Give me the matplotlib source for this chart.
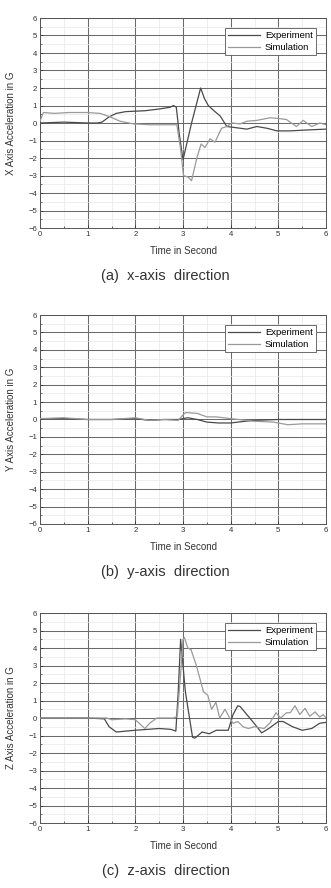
"""
Acceleration in G, experiment vs simulation, for the x, y and z axes.
Three stacked panels, values read off the original figure.
"""

import matplotlib
matplotlib.use("Agg")
import matplotlib.pyplot as plt
from matplotlib.ticker import MultipleLocator

plt.rcParams.update({
    "font.family": ["Liberation Sans", "DejaVu Sans"],
    "font.size": 6,
})

EXP_COLOR = "#4a4a4a"
SIM_COLOR = "#9a9a9a"

# ---- (a) x-axis -------------------------------------------------------------
x_exp_t = [0, 0.5, 1.0, 1.2, 1.3, 1.45, 1.6, 1.8, 2.2, 2.5, 2.73, 2.8, 2.86,
           2.92, 3.0, 3.18, 3.37, 3.45, 3.53, 3.65, 3.78, 3.92, 4.2, 4.34,
           4.55, 4.76, 4.97, 5.24, 5.59, 6.0]
x_exp_v = [0.0, 0.05, 0.0, 0.0, 0.05, 0.35, 0.55, 0.65, 0.7, 0.8, 0.9, 1.0,
           0.9, -0.6, -2.1, 0.0, 2.0, 1.4, 1.0, 0.7, 0.4, -0.2, -0.3, -0.35,
           -0.2, -0.3, -0.45, -0.45, -0.4, -0.35]
x_sim_t = [0, 0.07, 0.3, 0.6, 0.98, 1.26, 1.47, 1.68, 1.96, 2.3, 2.6, 2.87,
           2.95, 3.01, 3.11, 3.18, 3.29, 3.38, 3.46, 3.57, 3.67, 3.81, 3.92,
           4.02, 4.2, 4.34, 4.55, 4.83, 5.03, 5.17, 5.38, 5.52, 5.7, 5.87, 6.0]
x_sim_v = [0.1, 0.6, 0.55, 0.6, 0.6, 0.55, 0.35, 0.1, -0.05, -0.1, -0.1, -0.1,
           -1.5, -3.0, -3.1, -3.3, -2.0, -1.2, -1.4, -0.9, -1.1, -0.3, -0.2,
           0.0, -0.05, 0.1, 0.15, 0.3, 0.25, 0.2, -0.2, 0.15, -0.2, 0.0, -0.1]

# ---- (b) y-axis -------------------------------------------------------------
y_exp_t = [0, 0.5, 1.0, 1.5, 2.0, 2.3, 2.6, 2.9, 3.1, 3.3, 3.5, 3.75, 4.0,
           4.3, 4.5, 5.0, 5.5, 6.0]
y_exp_v = [0.05, 0.05, 0.0, 0.0, 0.05, -0.05, 0.0, 0.0, 0.1, 0.0, -0.15,
           -0.2, -0.2, -0.1, -0.05, 0.0, 0.0, 0.0]
y_sim_t = [0, 0.5, 1.0, 1.5, 2.0, 2.3, 2.6, 2.9, 2.98, 3.05, 3.3, 3.5, 3.7,
           4.0, 4.5, 4.9, 5.2, 5.5, 6.0]
y_sim_v = [0.05, 0.1, 0.0, 0.0, 0.1, -0.05, 0.0, -0.05, 0.2, 0.4, 0.35, 0.15,
           0.15, 0.05, -0.1, -0.15, -0.3, -0.25, -0.25]

# ---- (c) z-axis -------------------------------------------------------------
z_exp_t = [0, 1.0, 1.35, 1.45, 1.6, 2.0, 2.5, 2.75, 2.85, 2.9, 2.95, 3.05,
           3.2, 3.25, 3.4, 3.55, 3.7, 3.95, 4.05, 4.15, 4.2, 4.4, 4.55, 4.65,
           4.8, 5.0, 5.1, 5.3, 5.5, 5.7, 5.87, 6.0]
z_exp_v = [0.0, 0.0, -0.05, -0.5, -0.8, -0.7, -0.6, -0.65, -0.75, 1.5, 4.5,
           1.5, -1.1, -1.15, -0.8, -0.9, -0.7, -0.7, 0.2, 0.7, 0.65, 0.0, -0.5,
           -0.85, -0.6, -0.2, -0.2, -0.5, -0.7, -0.6, -0.3, -0.25]
z_sim_t = [0, 1.0, 1.4, 1.5, 1.8, 2.0, 2.2, 2.3, 2.45, 2.8, 2.88, 2.95, 3.0,
           3.03, 3.1, 3.17, 3.28, 3.43, 3.52, 3.6, 3.69, 3.77, 3.88, 3.98,
           4.05, 4.15, 4.26, 4.37, 4.5, 4.7, 4.82, 4.95, 5.05, 5.17, 5.25,
           5.35, 5.45, 5.56, 5.66, 5.77, 5.87, 5.94, 6.0]
z_sim_v = [0.0, 0.0, 0.0, -0.1, -0.05, -0.1, -0.6, -0.3, 0.0, 0.0, 0.1, 2.5,
           4.5, 4.6, 4.0, 3.9, 3.0, 1.5, 1.3, 0.5, 0.9, 0.0, 0.5, 0.0, -0.3,
           -0.2, -0.5, -0.6, -0.5, -0.6, -0.3, 0.3, 0.0, 0.3, 0.3, 0.7, 0.2,
           0.55, 0.1, 0.35, 0.05, 0.2, 0.0]

PANELS = [
    ("X Axis Acceleration in G", "(a)  x-axis  direction",
     x_exp_t, x_exp_v, x_sim_t, x_sim_v),
    ("Y Axis Acceleration in G", "(b)  y-axis  direction",
     y_exp_t, y_exp_v, y_sim_t, y_sim_v),
    ("Z Axis Acceleration in G", "(c)  z-axis  direction",
     z_exp_t, z_exp_v, z_sim_t, z_sim_v),
]

# axes boxes in pixels: (top, bottom) of each panel, figure is 331x888
W, H = 331, 888
LEFT, RIGHT = 40, 326
BOXES = [(18, 228), (315, 524), (613, 823)]

fig = plt.figure(figsize=(W / 100, H / 100), dpi=100)

for (ylabel, caption, et, ev, st, sv), (top, bottom) in zip(PANELS, BOXES):
    ax = fig.add_axes([LEFT / W, 1 - bottom / H,
                       (RIGHT - LEFT) / W, (bottom - top) / H])

    ax.plot(et, ev, color=EXP_COLOR, lw=0.9, label="Experiment", zorder=3)
    ax.plot(st, sv, color=SIM_COLOR, lw=0.9, label="Simulation", zorder=3)

    ax.set_xlim(0, 6)
    ax.set_ylim(-6, 6)
    ax.xaxis.set_major_locator(MultipleLocator(1))
    ax.xaxis.set_minor_locator(MultipleLocator(0.5))
    ax.yaxis.set_major_locator(MultipleLocator(1))
    ax.yaxis.set_minor_locator(MultipleLocator(0.5))

    ax.grid(True, which="major", color="#6a6a6a", lw=0.75)
    ax.grid(True, which="minor", color="#e8e8e8", lw=0.5)
    ax.set_axisbelow(True)

    ax.tick_params(which="both", direction="in", labelsize=5.6, pad=2,
                   colors="#333333")
    ax.tick_params(which="major", length=2.5, width=0.6)
    ax.tick_params(which="minor", length=1.5, width=0.5)
    for sp in ax.spines.values():
        sp.set_color("#555555")
        sp.set_linewidth(0.7)

    ax.set_xlabel("Time in Second", fontsize=7, color="#333333", labelpad=6)
    ax.set_ylabel(ylabel, fontsize=7, color="#333333", labelpad=9)

    leg = ax.legend(loc="upper right", fontsize=6.8, frameon=True,
                    fancybox=False, edgecolor="#555555", framealpha=1,
                    handlelength=3.4, handletextpad=0.5, borderpad=0.3,
                    labelspacing=0.3, borderaxespad=1.1)
    leg.get_frame().set_linewidth(0.6)

    fig.text(0.5, 1 - (bottom + 48) / H, caption, ha="center", va="center",
             fontsize=10.5, color="#333333")

fig.savefig("out.png", dpi=100)
